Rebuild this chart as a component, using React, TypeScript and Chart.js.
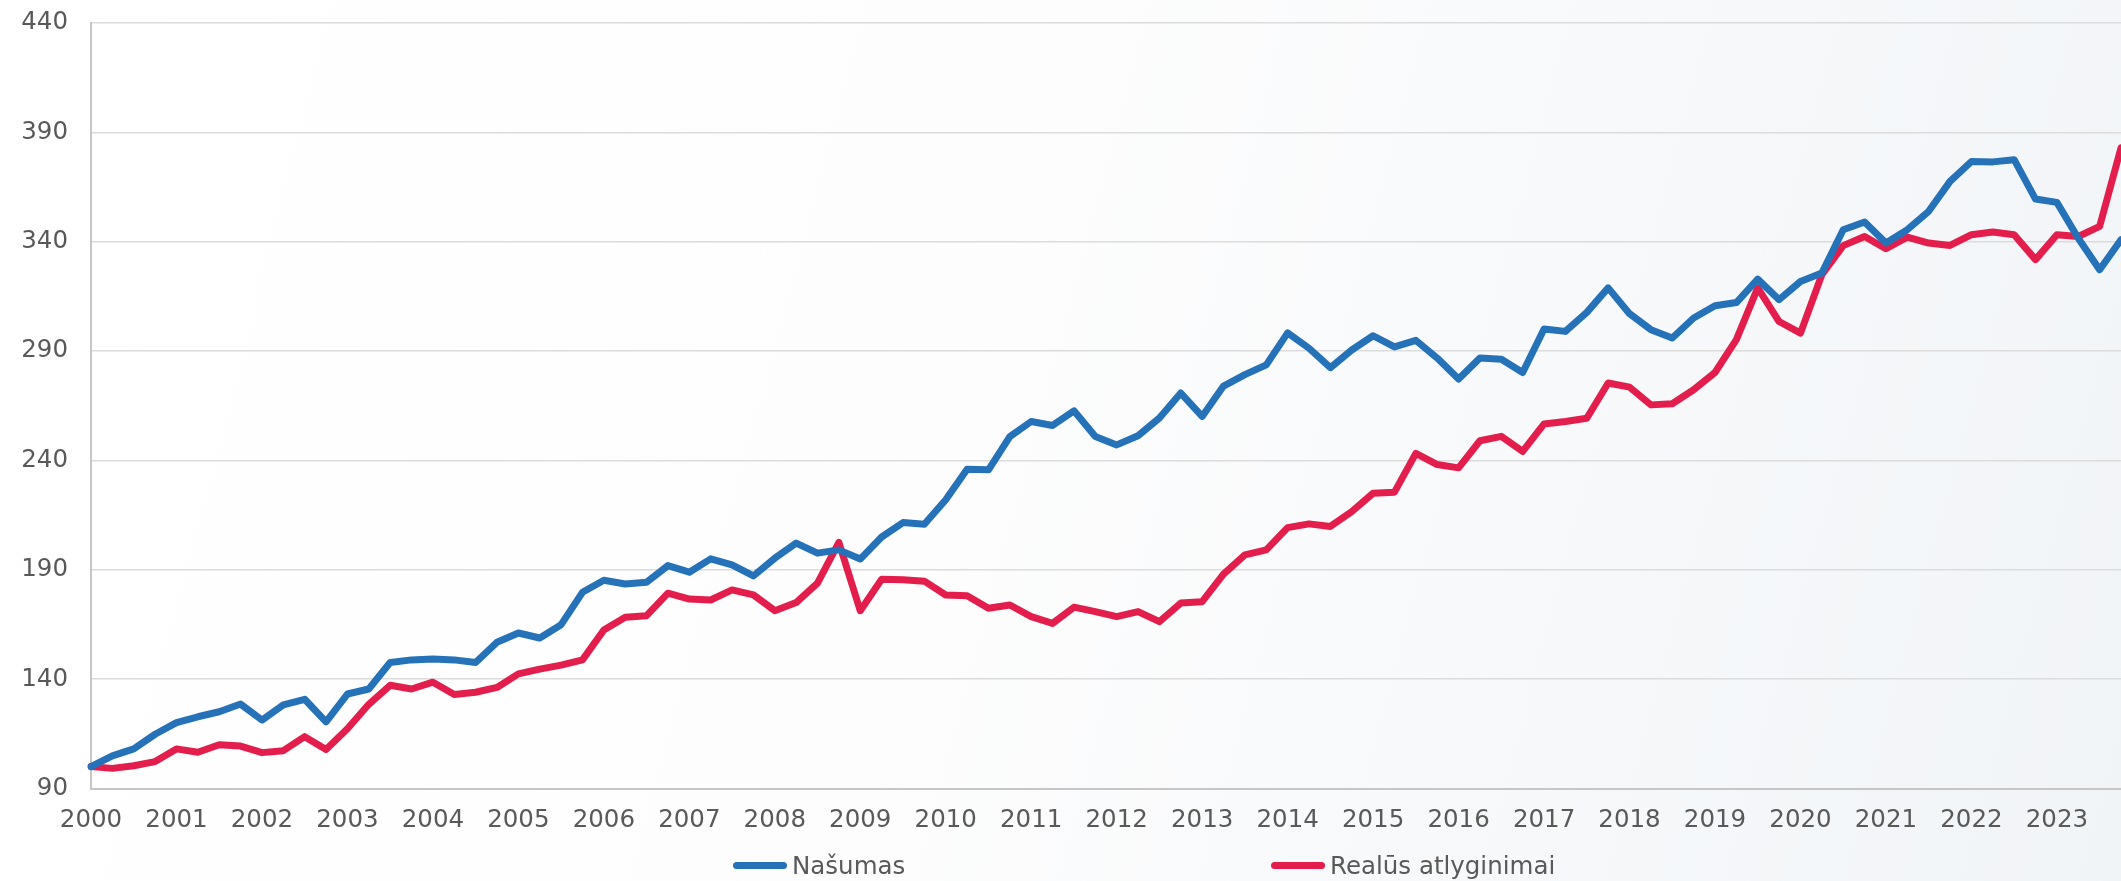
import React, { useEffect, useRef } from "react";
import { Chart, registerables } from "chart.js";

Chart.register(...registerables);

// Tick labels (one per year, shown at each year's first quarter)
const years = [
  "2000", "2001", "2002", "2003", "2004", "2005", "2006", "2007",
  "2008", "2009", "2010", "2011", "2012", "2013", "2014", "2015",
  "2016", "2017", "2018", "2019", "2020", "2021", "2022", "2023",
];
const quarters = ["I", "II", "III", "IV"];

// Categories: quarters 2000 I ... 2023 IV
const categories = years.flatMap((y) => quarters.map((q) => `${y} ${q}`));

// Series: Našumas (productivity index)
const productivity = [
  100, 104.9, 108.1, 114.8, 120.1, 122.8, 125.1, 128.6,
  121.3, 128.2, 130.8, 120.5, 133.2, 135.5, 147.6, 148.8,
  149.2, 148.8, 147.6, 156.9, 161.1, 158.8, 164.9, 179.7,
  185.2, 183.5, 184.3, 191.9, 188.9, 195, 192.2, 187.2,
  195.3, 202.2, 197.6, 199.1, 194.9, 205, 211.6, 210.8,
  222, 236, 235.7, 250.9, 257.8, 256, 262.7, 250.9,
  247.1, 251.3, 259.4, 270.8, 260.1, 274, 279.2, 283.7,
  298.3, 291.3, 282.4, 290.5, 297, 291.9, 294.9, 286.8,
  277.2, 286.8, 286.3, 280.2, 300.1, 299, 307.7, 318.9,
  307.1, 299.8, 296, 305.1, 310.7, 312.2, 322.9, 313.5,
  321.8, 325.7, 345.5, 349, 339.4, 345.5, 353.9, 367.6,
  376.7, 376.5, 377.5, 359.5, 358, 341.6, 327.2, 340.9,
];

// Series: Realūs atlyginimai (real wages index)
const realWages = [
  100, 99.2, 100.4, 102.3, 108.1, 106.6, 110, 109.4,
  106.4, 107.3, 113.7, 107.8, 117.3, 128.5, 137.2, 135.5,
  138.6, 133, 134, 136.2, 142.4, 144.6, 146.4, 148.8,
  162.5, 168.3, 169, 179.3, 176.6, 176.2, 180.8, 178.5,
  171.3, 175, 183.9, 202.5, 171.3, 185.7, 185.4, 184.8,
  178.5, 178.1, 172.4, 173.9, 168.6, 165.5, 172.9, 170.9,
  168.6, 170.9, 166.3, 174.8, 175.4, 188, 196.8, 199.1,
  209.3, 211, 209.8, 216.6, 225, 225.5, 243.2, 238.1,
  236.6, 249, 251, 244.1, 256.7, 257.8, 259.3, 275.4,
  273.5, 265.4, 265.9, 272.3, 280.2, 295.2, 318.9, 303.5,
  298.2, 324.9, 338.2, 342.4, 336.8, 342.1, 339.4, 338.3,
  343.2, 344.4, 343.2, 331.8, 343.2, 342.4, 347, 382.9,
];

const seriesNames = ["Našumas", "Realūs atlyginimai"];
const seriesColors = ["#2672B9", "#E31E4C"];

// Value axis ticks
const yMin = 90;
const yMax = 440;
const yStep = 50;

const FONT = "'DejaVu Sans', Verdana, sans-serif";
const FONT_SIZE = 24.5;
const TEXT = "#595959";

export default function App() {
  const canvasRef = useRef<HTMLCanvasElement | null>(null);

  useEffect(() => {
    const canvas = canvasRef.current;
    if (!canvas) return;
    const chart = new Chart(canvas, {
      type: "line",
      data: {
        labels: categories,
        datasets: [
          {
            label: seriesNames[0],
            data: productivity,
            borderColor: seriesColors[0],
            backgroundColor: seriesColors[0],
            borderWidth: 7,
            pointRadius: 0,
            tension: 0,
            borderJoinStyle: "round",
            borderCapStyle: "round",
          },
          {
            label: seriesNames[1],
            data: realWages,
            borderColor: seriesColors[1],
            backgroundColor: seriesColors[1],
            borderWidth: 7,
            pointRadius: 0,
            tension: 0,
            borderJoinStyle: "round",
            borderCapStyle: "round",
          },
        ],
      },
      options: {
        responsive: false,
        animation: false,
        devicePixelRatio: 1,
        layout: { padding: { top: 23, left: 0, right: 0, bottom: 0 } },
        plugins: {
          legend: { display: false },
          tooltip: { enabled: false },
        },
        scales: {
          x: {
            type: "category",
            offset: false,
            grid: { display: false, drawTicks: false },
            border: { display: true, color: "#c6c6c6", width: 2 },
            ticks: {
              autoSkip: false,
              maxRotation: 0,
              minRotation: 0,
              padding: 17,
              color: TEXT,
              font: { family: FONT, size: FONT_SIZE },
              callback: (_v: any, index: number) =>
                index % 4 === 0 ? years[index / 4] : "",
            },
            afterFit: (scale: any) => {
              scale.height = 92.5;
              scale.paddingLeft = 0;
              scale.paddingRight = 0;
            },
          },
          y: {
            min: yMin,
            max: yMax,
            grid: { color: "#dcdcdc", lineWidth: 1.5, drawTicks: false },
            border: { display: true, color: "#c6c6c6", width: 2 },
            ticks: {
              stepSize: yStep,
              padding: 23,
              color: TEXT,
              font: { family: FONT, size: FONT_SIZE },
            },
            afterFit: (scale: any) => {
              scale.width = 91;
              scale.paddingTop = 0;
              scale.paddingBottom = 0;
            },
          },
        },
      },
    });
    return () => chart.destroy();
  }, []);

  const legendItems = [
    { name: seriesNames[0], color: seriesColors[0], left: 733 },
    { name: seriesNames[1], color: seriesColors[1], left: 1271 },
  ];

  return (
    <div
      style={{
        position: "fixed",
        left: 0,
        top: 0,
        width: 2121,
        height: 881,
        overflow: "hidden",
        background:
          "linear-gradient(105deg, #ffffff 0%, #fdfdfd 45%, #f6f8fa 75%, #f1f4f7 100%)",
      }}
    >
      <canvas
        ref={canvasRef}
        width={2121}
        height={881}
        style={{ position: "absolute", left: 0, top: 0, width: 2121, height: 881 }}
      />
      {legendItems.map((it) => (
        <div
          key={it.name}
          style={{
            position: "absolute",
            left: it.left,
            top: 851,
            height: 28,
            display: "flex",
            alignItems: "center",
            fontFamily: FONT,
            fontSize: FONT_SIZE,
            color: TEXT,
            whiteSpace: "nowrap",
          }}
        >
          <span
            style={{
              display: "inline-block",
              width: 54,
              height: 7,
              borderRadius: 4,
              background: it.color,
              marginRight: 5,
            }}
          />
          <span>{it.name}</span>
        </div>
      ))}
    </div>
  );
}
